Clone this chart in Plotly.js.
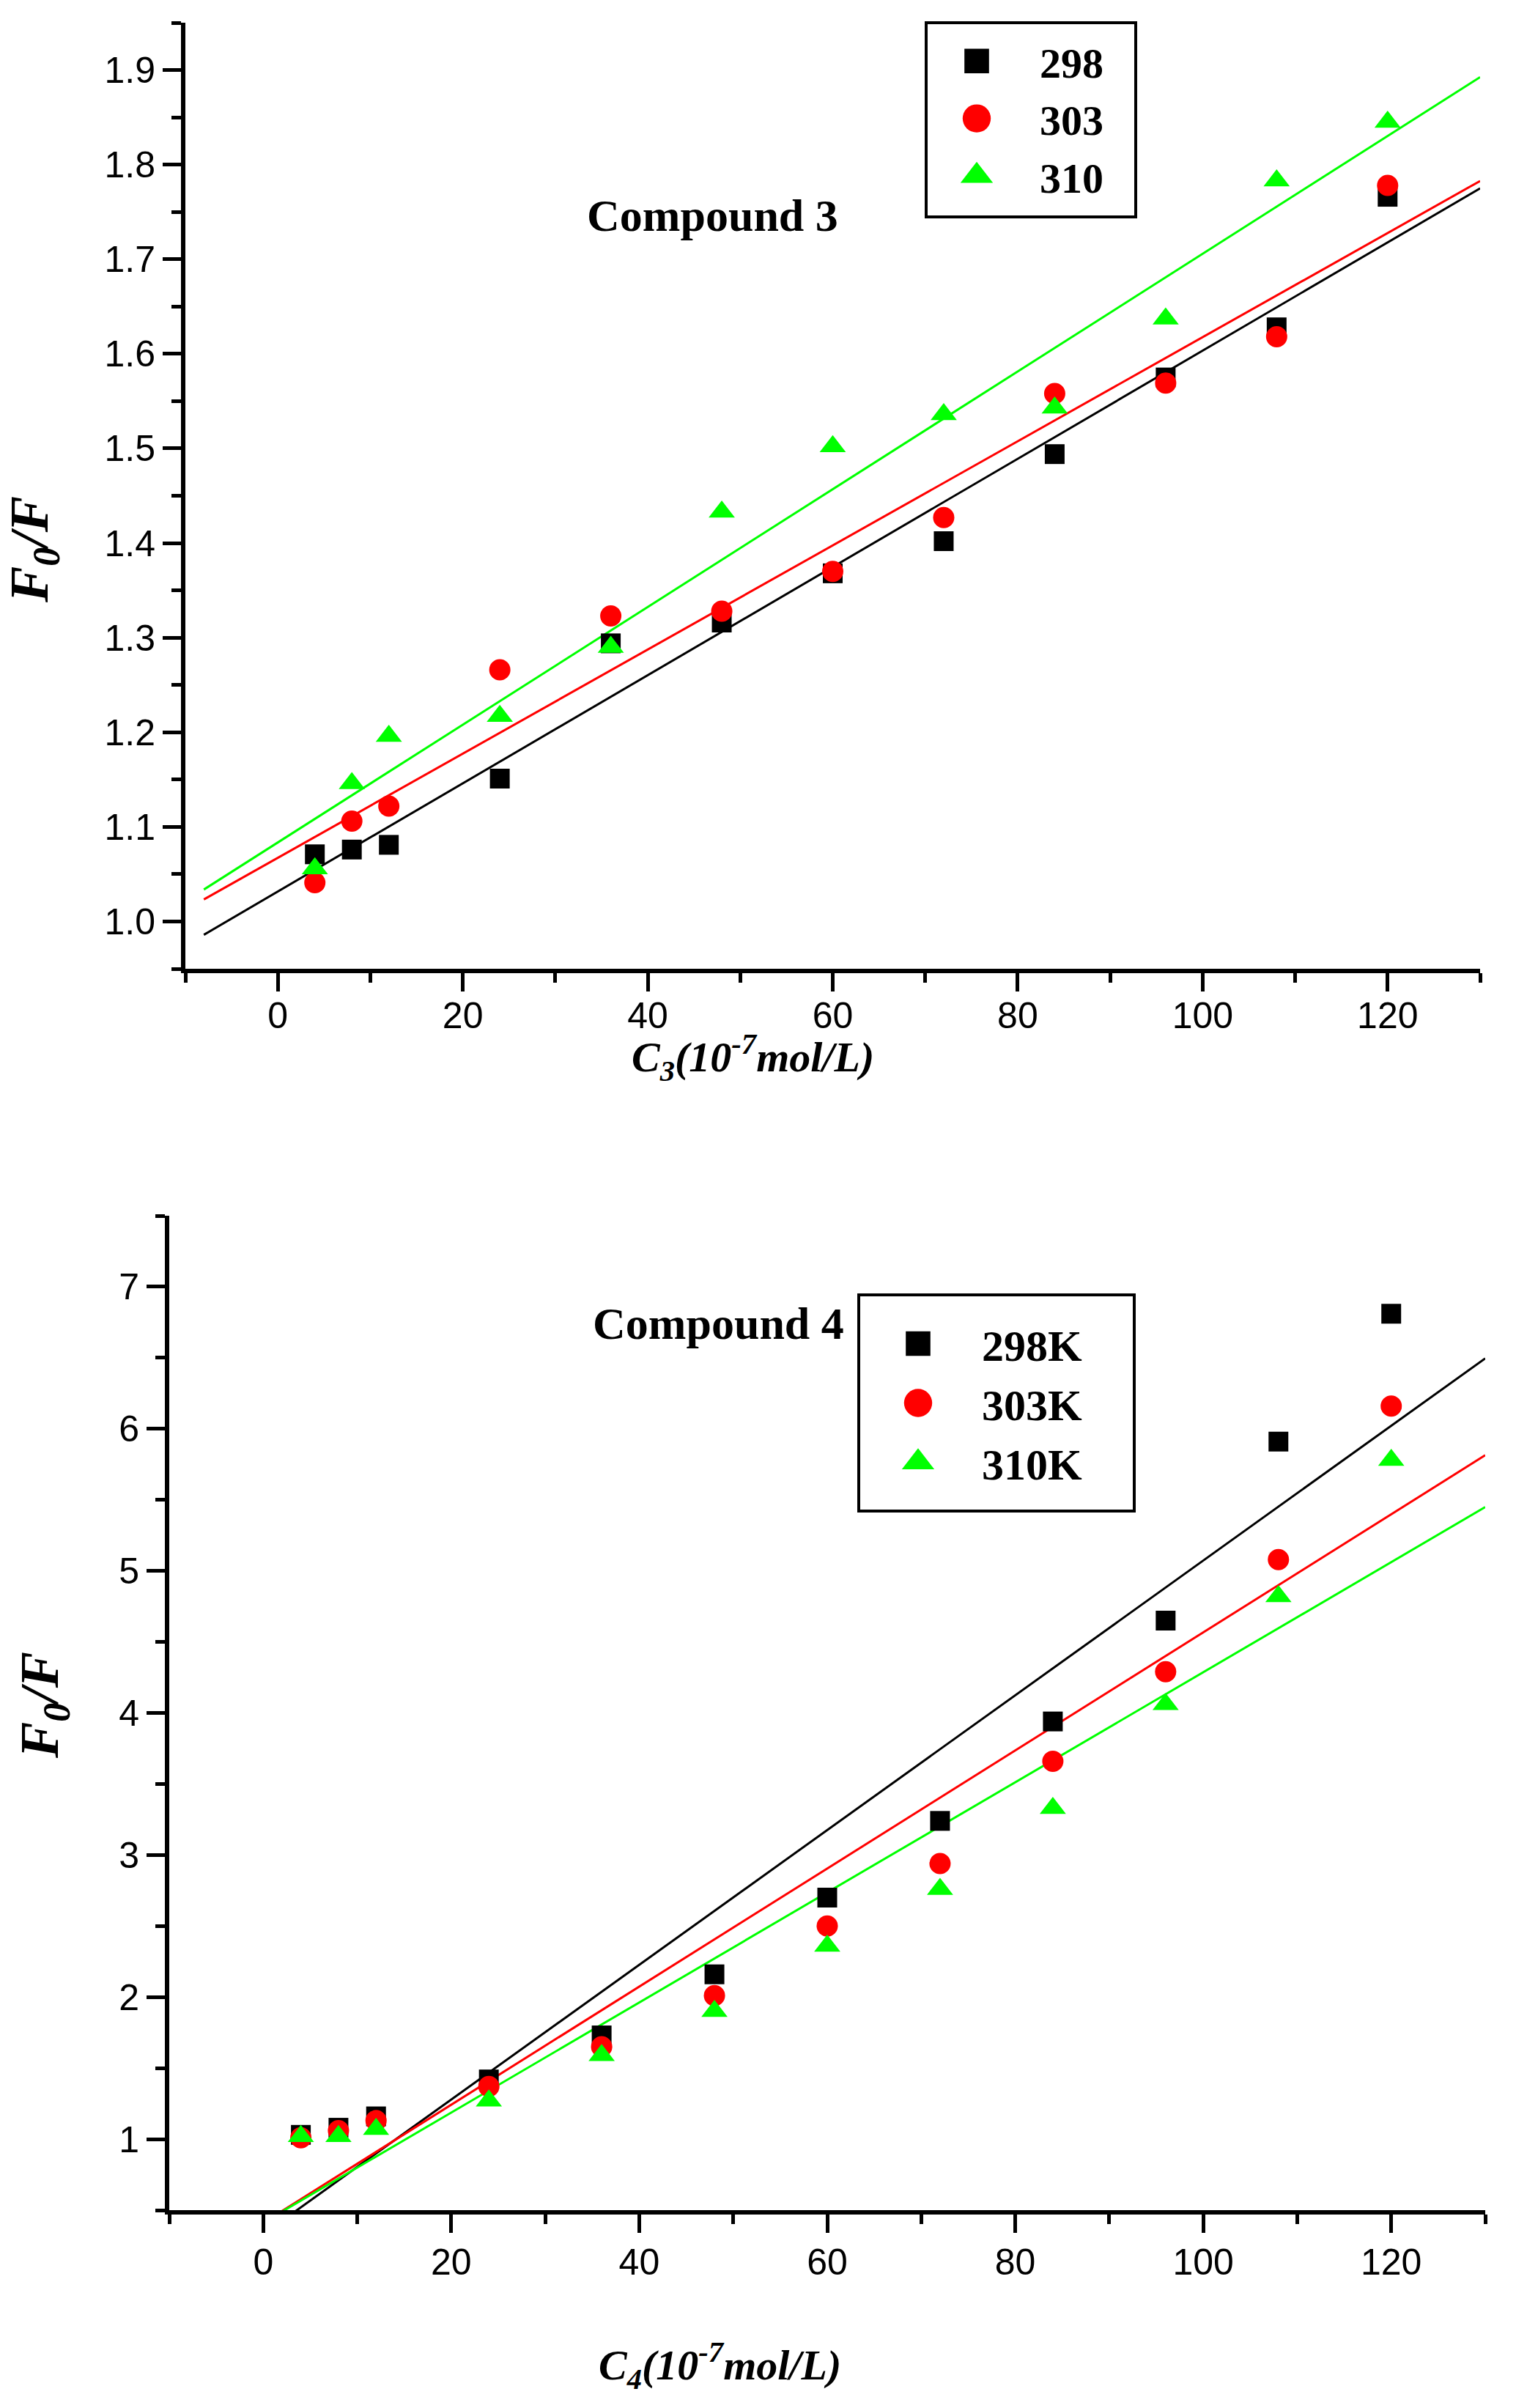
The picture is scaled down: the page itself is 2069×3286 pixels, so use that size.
<!DOCTYPE html>
<html>
<head>
<meta charset="utf-8">
<script src="https://cdn.plot.ly/plotly-3.0.1.min.js"></script>
<style>html,body{margin:0;padding:0;background:#fff;}</style>
</head>
<body>
<div id="chart" style="width:2069px;height:3286px;"></div>
<script>
// ---------- data ----------
const conc = [4, 8, 12, 24, 36, 48, 60, 72, 84, 96, 108, 120];
const c3_298 = [1.071, 1.076, 1.081, 1.151, 1.294, 1.316, 1.368, 1.402, 1.494, 1.575, 1.628, 1.766];
const c3_303 = [1.041, 1.106, 1.122, 1.266, 1.323, 1.328, 1.370, 1.427, 1.558, 1.569, 1.618, 1.778];
const c3_310 = [1.056, 1.146, 1.196, 1.217, 1.290, 1.433, 1.502, 1.536, 1.543, 1.637, 1.783, 1.845];
const c4_298 = [1.03, 1.08, 1.16, 1.42, 1.73, 2.16, 2.70, 3.24, 3.94, 4.65, 5.91, 6.81];
const c4_303 = [1.01, 1.06, 1.13, 1.37, 1.65, 2.01, 2.50, 2.94, 3.66, 4.29, 5.08, 6.16];
const c4_310 = [1.02, 1.02, 1.07, 1.27, 1.59, 1.90, 2.36, 2.76, 3.33, 4.06, 4.82, 5.78];
const names3 = ['298', '303', '310'];
const names4 = ['298K', '303K', '310K'];
const fitX = [-8, 130];

// ---------- helpers ----------
function linfit(x, y) {
  const n = x.length;
  const mx = x.reduce((a, b) => a + b, 0) / n;
  const my = y.reduce((a, b) => a + b, 0) / n;
  let sxy = 0, sxx = 0;
  for (let i = 0; i < n; i++) { sxy += (x[i] - mx) * (y[i] - my); sxx += (x[i] - mx) * (x[i] - mx); }
  const b = sxy / sxx, a = my - b * mx;
  return v => a + b * v;
}
const W = 2069, H = 3286;
const M = {l: 227, r: 42, t: 31, b: 270};
const PW = W - M.l - M.r, PH = H - M.t - M.b;
const px = x => (x - M.l) / PW;
const py = y => (H - M.b - y) / PH;

const colors = ['#000000', '#ff0000', '#00ff00'];
const symbols = ['square', 'circle', 'triangle-up'];
const sizes = [27, 29, 31];

const traces = [];
function addPanel(ys, names, xa, ya, legendId) {
  ys.forEach((y, i) => {
    const f = linfit(conc, y);
    traces.push({
      x: fitX, y: fitX.map(f), xaxis: xa, yaxis: ya, mode: 'lines',
      line: {color: colors[i], width: 3}, showlegend: false, hoverinfo: 'skip'
    });
  });
  ys.forEach((y, i) => {
    traces.push({
      x: conc, y: y, xaxis: xa, yaxis: ya, mode: 'markers', name: '<b>' + names[i] + '</b>',
      legend: legendId,
      marker: {symbol: symbols[i], size: sizes[i], color: colors[i], line: {width: 0}}
    });
  });
}
addPanel([c3_298, c3_303, c3_310], names3, 'x', 'y', 'legend');
addPanel([c4_298, c4_303, c4_310], names4, 'x2', 'y2', 'legend2');

const tickFont = {family: 'Liberation Sans', size: 50, color: '#000'};
function xAxis(domain, anchor, standoff) {
  return {
    domain: domain, anchor: anchor, range: [-10, 130], tick0: 0, dtick: 20,
    showline: true, linewidth: 6, linecolor: '#000', showgrid: false, zeroline: false,
    ticks: 'outside', ticklen: 25, tickwidth: 5, tickcolor: '#000', tickfont: tickFont,
    ticklabelstandoff: standoff,
    minor: {ticks: 'outside', ticklen: 13, tickwidth: 5, tickcolor: '#000', dtick: 10, showgrid: false}
  };
}
function yAxis(domain, anchor, range, dtick, minorDtick, fmt) {
  return {
    domain: domain, anchor: anchor, range: range, tick0: 0, dtick: dtick, tickformat: fmt,
    showline: true, linewidth: 6, linecolor: '#000', showgrid: false, zeroline: false,
    ticks: 'outside', ticklen: 25, tickwidth: 5, tickcolor: '#000', tickfont: tickFont,
    minor: {ticks: 'outside', ticklen: 13, tickwidth: 5, tickcolor: '#000', dtick: minorDtick, showgrid: false}
  };
}
const serif = 'Times New Roman';
const titleFont = {family: serif, size: 58, color: '#000'};
const yTitleFont = {family: serif, size: 74, color: '#000'};
const labelFont = {family: serif, size: 62, color: '#000'};

const layout = {
  width: W, height: H, margin: M, paper_bgcolor: '#fff', plot_bgcolor: '#fff',
  font: {family: serif, color: '#000'},
  showlegend: true,
  xaxis: xAxis([px(253), px(2020)], 'y', -10),
  yaxis: yAxis([py(1322), 1], 'x', [0.95, 1.95], 0.1, 0.05, '.1f'),
  xaxis2: xAxis([px(231), 1], 'y2', -3),
  yaxis2: yAxis([0, py(1659)], 'x2', [0.5, 7.5], 1, 0.5, 'd'),
  legend: {
    x: px(1247), y: py(39), xanchor: 'left', yanchor: 'top', bgcolor: 'rgba(0,0,0,0)',
    borderwidth: 0, font: {family: serif, size: 58, color: '#000'}, itemwidth: 162, valign: 'middle'
  },
  legend2: {
    x: px(1166), y: py(1788), xanchor: 'left', yanchor: 'top', bgcolor: 'rgba(0,0,0,0)',
    borderwidth: 0, font: {family: serif, size: 60, color: '#000'}, itemwidth: 164, valign: 'middle'
  },
  shapes: [
    {type: 'rect', xref: 'paper', yref: 'paper', x0: px(1264), x1: px(1550), y0: py(296), y1: py(31),
     line: {color: '#000', width: 4}, fillcolor: '#fff', layer: 'above'},
    {type: 'rect', xref: 'paper', yref: 'paper', x0: px(1172), x1: px(1548), y0: py(2062), y1: py(1767),
     line: {color: '#000', width: 4}, fillcolor: '#fff', layer: 'above'}
  ],
  annotations: [
    {text: '<b>Compound 3</b>', xref: 'paper', yref: 'paper', x: px(972), y: py(294), showarrow: false,
     xanchor: 'center', yanchor: 'middle', font: labelFont},
    {text: '<b>Compound 4</b>', xref: 'paper', yref: 'paper', x: px(980), y: py(1806), showarrow: false,
     xanchor: 'center', yanchor: 'middle', font: labelFont},
    {text: '<b><i>C<sub>3</sub>(10<sup>-7</sup>mol/L)</i></b>', xref: 'paper', yref: 'paper', x: px(1027), y: py(1443),
     showarrow: false, xanchor: 'center', yanchor: 'middle', font: titleFont},
    {text: '<b><i>C<sub>4</sub>(10<sup>-7</sup>mol/L)</i></b>', xref: 'paper', yref: 'paper', x: px(982), y: py(3228),
     showarrow: false, xanchor: 'center', yanchor: 'middle', font: titleFont},
    {text: '<b><i>F<sub>0</sub>/F</i></b>', xref: 'paper', yref: 'paper', x: px(45), y: py(750), textangle: -90,
     showarrow: false, xanchor: 'center', yanchor: 'middle', font: yTitleFont},
    {text: '<b><i>F<sub>0</sub>/F</i></b>', xref: 'paper', yref: 'paper', x: px(59), y: py(2327), textangle: -90,
     showarrow: false, xanchor: 'center', yanchor: 'middle', font: yTitleFont}
  ]
};

const legendScale = [2.1, 2.4, 2.4];
Plotly.newPlot('chart', traces, layout, {staticPlot: true, displayModeBar: false}).then(() => {
  const items = document.querySelectorAll('.infolayer g.traces');
  items.forEach((g, k) => {
    const s = legendScale[k % 3];
    g.querySelectorAll('path.scatterpts').forEach(p => {
      const t = p.getAttribute('transform') || '';
      p.setAttribute('transform', t + ' scale(' + s + ')');
    });
  });
});
</script>
</body>
</html>
